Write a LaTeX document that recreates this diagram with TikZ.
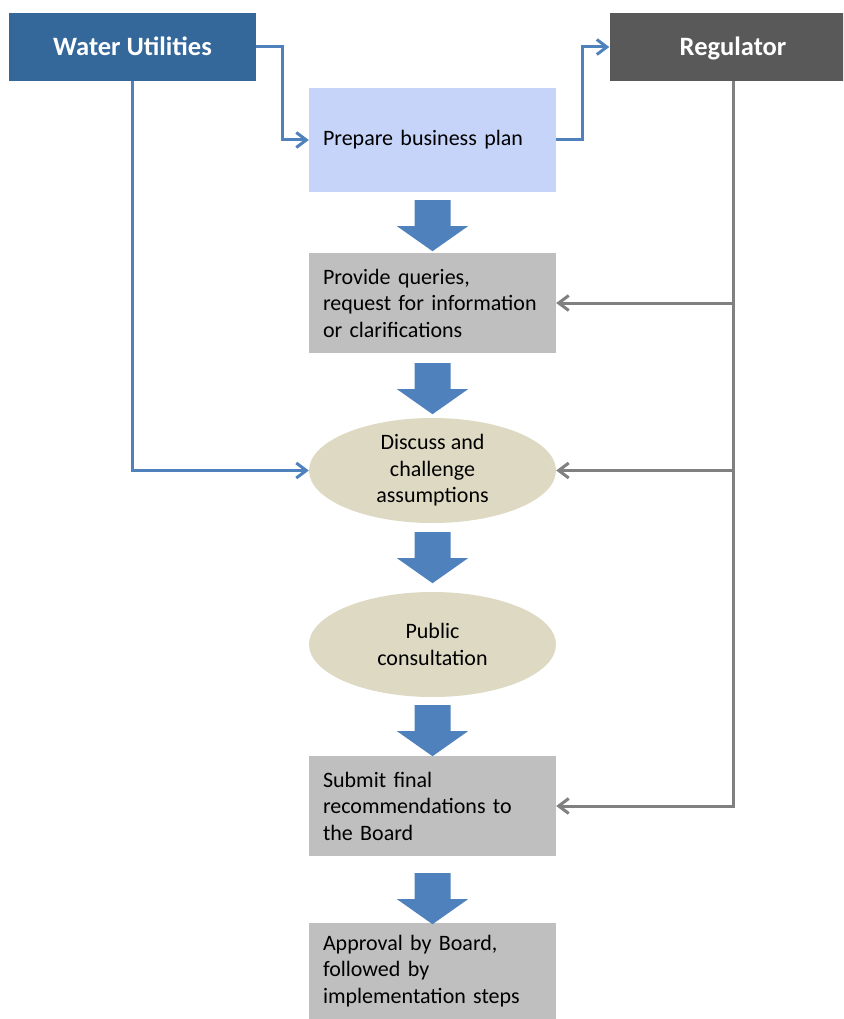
\documentclass[tikz,border=0pt]{standalone}
\usepackage{fontspec}
\setmainfont{Carlito}
\usetikzlibrary{arrows.meta,shapes.geometric}

\definecolor{utilblue}{RGB}{52,103,154}
\definecolor{reggray}{RGB}{89,89,89}
\definecolor{planblue}{RGB}{198,212,249}
\definecolor{stepgray}{RGB}{191,191,191}
\definecolor{talktan}{RGB}{221,217,195}
\definecolor{flowblue}{RGB}{79,129,189}
\definecolor{linkgray}{RGB}{128,128,128}

\tikzset{
  header/.style={rectangle, minimum width=247pt, minimum height=68pt, inner sep=0pt,
    text height=17pt, text depth=0pt,
    text=white, font=\fontsize{26.5}{30}\selectfont\bfseries},
  stepbox/.style={rectangle, fill=stepgray, minimum width=247pt, minimum height=100pt,
    inner xsep=14pt, inner ysep=0pt, text width=219pt, align=left,
    font=\fontsize{22}{26.5}\selectfont},
  talk/.style={ellipse, fill=talktan, minimum width=247pt, minimum height=105pt,
    inner sep=0pt, align=center, font=\fontsize{22}{26.5}\selectfont},
  blueflow/.style={draw=flowblue, line width=3pt, -{Straight Barb[length=10pt,width=15pt]}},
  grayflow/.style={draw=linkgray, line width=3pt, -{Straight Barb[length=10pt,width=15pt]}},
  downblock/.pic={\fill[flowblue] (-18,0) -- (18,0) -- (18,26) -- (35.5,26) -- (0,51)
    -- (-35.5,26) -- (-18,26) -- cycle;}
}

\begin{document}
\begin{tikzpicture}[x=1pt,y=-1pt]
  \useasboundingbox (0,0) rectangle (843,1019);
  \clip (0,0) rectangle (843,1019);

  % actors
  \node[header, fill=utilblue] (water) at (132.5,47) {Water Utilities};
  \node[header, fill=reggray] (reg) at (733,47) {Regulator};

  % process steps
  \node[stepbox, fill=planblue, minimum height=104pt] (plan) at (432.5,140) {Prepare business plan};
  \node[stepbox] (queries) at (432.5,303) {Provide queries,\\request for information\\or clarifications};
  \node[talk] (discuss) at (432.5,470.5) {Discuss and\\challenge\\assumptions};
  \node[talk] (public) at (432.5,644.5) {Public\\consultation};
  \node[stepbox] (submit) at (432.5,806) {Submit final\\recommendations to\\the Board};
  \node[stepbox, minimum height=96pt] (approve) at (432.5,971) {Approval by Board,\\followed by\\implementation steps};

  % block arrows between steps
  \pic at ([yshift=-8pt]plan.south) {downblock};
  \pic at ([yshift=-10pt]queries.south) {downblock};
  \pic at ([yshift=-9pt]discuss.south) {downblock};
  \pic at ([yshift=-8pt]public.south) {downblock};
  \pic at ([yshift=-17pt]submit.south) {downblock};

  % utilities links
  \draw[blueflow] (water.east) -| ([xshift=-26pt]plan.west) -- (plan.west);
  \draw[blueflow] (plan.east) -| ([xshift=-27pt]reg.west) -- (reg.west);
  \draw[blueflow] (water.south) |- (discuss.west);

  % regulator links
  \draw[grayflow] (reg.south) |- (submit.east);
  \draw[grayflow] (reg.south |- queries.east) -- (queries.east);
  \draw[grayflow] (reg.south |- discuss.east) -- (discuss.east);
\end{tikzpicture}
\end{document}
